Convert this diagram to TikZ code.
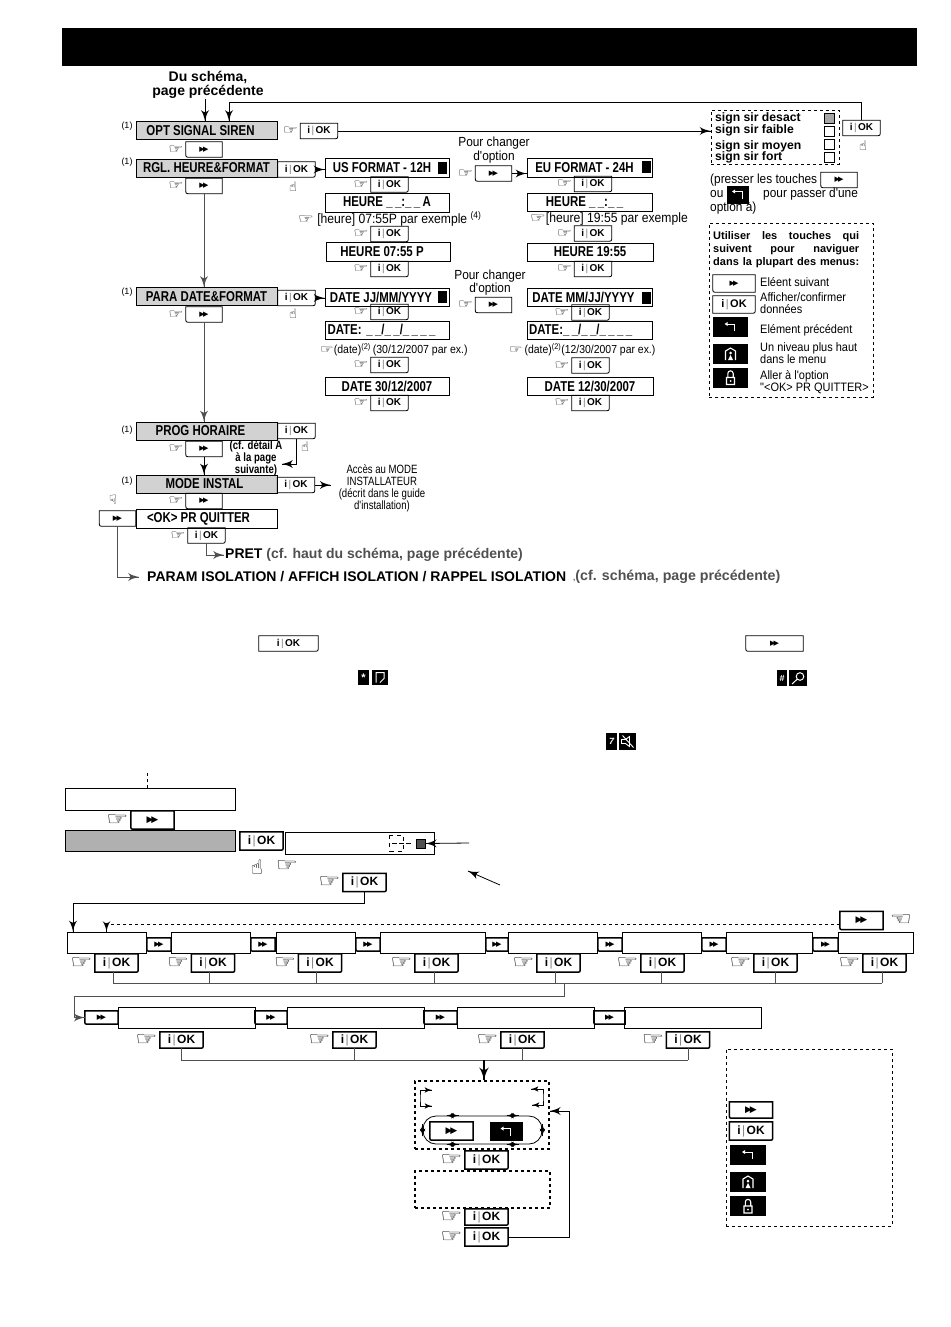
\documentclass[tikz,border=0pt]{standalone}
\usepackage{fontspec}
\setmainfont{Liberation Sans}
\newfontfamily\narrowfont[FakeStretch=0.80]{Liberation Sans}
\newfontfamily\notefont[FakeStretch=0.90]{Liberation Sans}
\newfontfamily\symbfont{DejaVu Sans}
\newfontfamily\handfont[FakeStretch=1.3]{DejaVu Sans}
\usetikzlibrary{arrows}
\usetikzlibrary{decorations.markings}
\usetikzlibrary{positioning}

\newcommand{\fs}[1]{\fontsize{#1}{#1}\selectfont}
\newcommand{\okmark}{i\kern1.5pt{\mdseries\textcolor{gray}{|}}\kern1.5pt OK}
\newcommand{\nextmark}{{\symbfont ▶\kern-.25em▶}}
\newcommand{\handmark}{{\handfont ☞}}

\definecolor{panel}{HTML}{D2D2D2}
\definecolor{panelb}{HTML}{B0B0B0}
\definecolor{wirec}{HTML}{505050}

\tikzset{flow/.style = {line width = 0.8,
                        decoration={markings,
                                    mark=at position 1 with {\arrow[scale=2.1]{latex'}}},
                        postaction={decorate}}}
\tikzset{both/.style = {line width = 0.6,
                        decoration={markings,
                                    mark=at position 0 with {\arrowreversed[scale=1.6]{latex'}},
                                    mark=at position 1 with {\arrow[scale=1.6]{latex'}}},
                        postaction={decorate}}}
\tikzset{wire/.style = {wirec, line width = 0.8}}
\tikzset{lcd/.style = {draw, line width = 1, inner sep = 0, font = \narrowfont\bfseries\fs{14.3}}}
\tikzset{lcdg/.style = {lcd, fill = panel}}
\tikzset{okkey/.style = {inner sep = 0, minimum width = 37, minimum height = 15,
    font = \bfseries\fs{10},
    append after command = {\pgfextra{\draw [line width = #1]
      (\tikzlastnode.south west) -- (\tikzlastnode.north west) -- (\tikzlastnode.north east)
      -- ([yshift=4]\tikzlastnode.south east)
      .. controls (\tikzlastnode.south east) .. ([xshift=-4]\tikzlastnode.south east) -- cycle;}}}}
\tikzset{okkey/.default = 0.8}
\tikzset{nextkey/.style = {inner sep = 0, minimum width = 36, minimum height = 15,
    font = \fs{7},
    append after command = {\pgfextra{\draw [line width = #1]
      (\tikzlastnode.north west) -- (\tikzlastnode.north east) -- (\tikzlastnode.south east)
      -- ([xshift=4]\tikzlastnode.south west)
      .. controls (\tikzlastnode.south west) .. ([yshift=4]\tikzlastnode.south west) -- cycle;}}}}
\tikzset{nextkey/.default = 0.8}
\tikzset{okbig/.style = {okkey = 1.5, minimum width = 43, minimum height = 18, font = \bfseries\fs{12}}}
\tikzset{nextbig/.style = {nextkey = 1.5, minimum width = 43, minimum height = 18, font = \fs{9}}}
\tikzset{nextslim/.style = {nextkey = 1.5, minimum height = 13, font = \fs{7}}}
\tikzset{hand/.style = {inner sep = 0, font = \handfont\fs{13}}}
\tikzset{handbig/.style = {inner sep = 0, font = \handfont\fs{19}}}
\tikzset{note/.style = {inner sep = 0, font = \notefont\fs{13.2}}}
\tikzset{tagone/.style = {inner sep = 0, font = \fs{9}}}
\tikzset{strong/.style = {inner sep = 0, font = \bfseries\fs{14}}}
\tikzset{dashbox/.style = {draw, dashed, line width = 0.9, inner sep = 0}}
\tikzset{dashheavy/.style = {draw, dashed, line width = 1.4, inner sep = 0}}
\tikzset{iconbox/.style = {fill = black, inner sep = 0, text = white, font = \bfseries\fs{9}}}
\tikzset{sq/.style = {draw, line width = 0.7, inner sep = 0, minimum width = 10, minimum height = 10}}

\newcommand{\okstep}[3]{%
  \node [okkey] (#1) at (#2, #3) {\okmark};
  \node [hand, left = 2 of #1] (#1h) {\handmark};}
\newcommand{\nextstep}[3]{%
  \node [nextkey] (#1) at (#2, #3) {\nextmark};
  \node [hand, left = 2 of #1] (#1h) {\handmark};}
\newcommand{\backglyph}[1]{%
  \fill [white, shift = {(#1.center)}] (-6, -3) -- (-3, -5) -- (-3, -1) -- cycle;
  \draw [white, line width = 0.9, shift = {(#1.center)}] (-4, -3) -- (4, -3) -- (4, 4);}
\newcommand{\homeglyph}[1]{%
  \draw [white, line width = 1.1, shift = {(#1.center)}] (-5, 6) -- (-5, -3) -- (0, -6) -- (5, -3) -- (5, 6);
  \fill [white, shift = {(#1.center)}] (0, -1) circle (1.5) (-2.5, 6) -- (0, 1) -- (2.5, 6) -- cycle;}
\newcommand{\lockglyph}[1]{%
  \draw [white, line width = 1.1, shift = {(#1.center)}] (-4, 0) rectangle (4, 7)
    (-2.7, 0) -- (-2.7, -4) arc (180:360:2.7) -- (2.7, 0);
  \fill [white, shift = {(#1.center)}] (0, 3.5) circle (1);}

\begin{document}
\begin{tikzpicture}[x=1pt, y=-1pt]
  \useasboundingbox (0, 0) rectangle (950, 1327);
  \node [fill = black, inner sep = 0, minimum width = 855, minimum height = 38] (header) at (489.5, 47) {};

  % top chart, left column
  \node [inner sep = 0, align = center, font = \bfseries\fs{14}] (from) at (208, 85) {Du schéma,\\page précédente};
  \node [lcdg, minimum width = 141, minimum height = 18] (opt) at (206.5, 130.5) {\hspace*{-12pt}OPT SIGNAL SIREN};
  \node [lcdg, minimum width = 141, minimum height = 18] (rgl) at (206.5, 168) {RGL. HEURE\&FORMAT};
  \node [lcdg, minimum width = 141, minimum height = 18] (para) at (206.5, 296.5) {PARA DATE\&FORMAT};
  \node [lcdg, minimum width = 141, minimum height = 18] (prog) at (206.5, 431) {\hspace*{-12pt}PROG HORAIRE};
  \node [lcdg, minimum width = 141, minimum height = 18] (inst) at (206.5, 484) {\hspace*{-4pt}MODE INSTAL};
  \node [lcd, minimum width = 141, minimum height = 19] (quit) at (206.5, 518.5) {\hspace*{-16pt}<OK> PR QUITTER};
  \node [tagone] (ta) at (127, 126) {(1)};
  \node [tagone] (tb) at (127, 162) {(1)};
  \node [tagone] (tc) at (127, 292) {(1)};
  \node [tagone] (td) at (127, 430) {(1)};
  \node [tagone] (te) at (127, 481) {(1)};

  \nextstep{na}{204}{149.5}
  \nextstep{nb}{204}{186}
  \nextstep{nc}{204}{314.5}
  \nextstep{nd}{204}{449}
  \nextstep{ne}{204}{501}
  \node [okkey] (oa) at (319, 131) {\okmark};
  \node [hand, left = 2 of oa] (oah) {\handmark};
  \node [okkey] (ob) at (296.5, 169.5) {\okmark};
  \node [okkey] (oc) at (296.5, 298) {\okmark};
  \node [okkey] (od) at (296.5, 431) {\okmark};
  \node [okkey] (oe) at (296, 485) {\okmark};
  \okstep{of}{206.5}{535.5}
  \node [nextkey] (nq) at (117.5, 518.5) {\nextmark};
  \node [inner sep = 0, font = \symbfont\fs{13}] (pa) at (293, 187) {☝};
  \node [inner sep = 0, font = \symbfont\fs{13}] (pb) at (293, 314) {☝};
  \node [inner sep = 0, font = \symbfont\fs{13}] (pc) at (305, 447) {☝};
  \node [inner sep = 0, font = \symbfont\fs{13}] (pd) at (113, 500) {☟};
  \node [inner sep = 0, align = center, font = \narrowfont\bfseries\fs{12}] (detail) at (256, 458) {(cf. détail A\\à la page\\suivante)};
  \node [inner sep = 0, align = center, font = \narrowfont\fs{12}] (acces) at (382, 488.5) {Accès au MODE\\INSTALLATEUR\\(décrit dans le guide\\d'installation)};
  \node [strong, anchor = west] (pret) at (225, 555) {PRET {\color{wirec}(cf. haut du schéma, page précédente)}};
  \node [strong, anchor = west] (param) at (147, 577) {PARAM ISOLATION / AFFICH ISOLATION / RAPPEL ISOLATION};
  \node [strong, anchor = west, text = wirec, font = \bfseries\fs{14.2}] (cfs) at (573, 577) {{\fs{8},}(cf. schéma, page précédente)};

  \draw [flow] ([xshift=-3]from.south) -- ([xshift=-1.5]opt.north);
  \draw [wire, flow] (nb.south) -- (nb.south |- para.north);
  \draw [wire, flow] (nc.south) -- (nc.south |- prog.north);
  \draw [flow] (nd.south) -- (nd.south |- inst.north);
  \draw [flow] (oe.east) -- ++(16, 0);
  \coordinate (backa) at (282, 464);
  \draw [flow] (od.south) |- (backa);
  \coordinate (preta) at (224, 555);
  \coordinate (parama) at (139, 577);
  \draw [wire, flow] (of.south) |- (preta);
  \draw [wire, flow] (nq.south) |- (parama);

  % format columns
  \node [lcd, minimum width = 124, minimum height = 19] (us) at (387, 167.5) {\hspace*{-10pt}US FORMAT - 12H};
  \node [lcd, minimum width = 124, minimum height = 19] (hus) at (387, 202.5) {HEURE \_\,\_:\_\,\_\,A};
  \node [lcd, minimum width = 124, minimum height = 19] (tus) at (388, 251.5) {\hspace*{-12pt}HEURE 07:55 P};
  \node [lcd, minimum width = 124, minimum height = 18] (dus) at (387, 297) {\hspace*{-12pt}DATE JJ/MM/YYYY};
  \node [lcd, minimum width = 124, minimum height = 18, text width = 119] (fus) at (387, 330) {DATE: \_\,\_/\_\,\_/\_\,\_\,\_\,\_};
  \node [lcd, minimum width = 124, minimum height = 18] (vus) at (387, 386) {DATE 30/12/2007};
  \node [lcd, minimum width = 125, minimum height = 19] (eu) at (589.5, 167.5) {\hspace*{-10pt}EU FORMAT - 24H};
  \node [lcd, minimum width = 125, minimum height = 18] (heu) at (589.5, 202) {\hspace*{-10pt}HEURE \_\,\_:\_\,\_};
  \node [lcd, minimum width = 126, minimum height = 18] (teu) at (590, 252) {HEURE 19:55};
  \node [lcd, minimum width = 125, minimum height = 18] (deu) at (589.5, 297) {\hspace*{-12pt}DATE MM/JJ/YYYY};
  \node [lcd, minimum width = 125, minimum height = 18, text width = 121] (feu) at (589.5, 330) {DATE:\_\,\_/\_\,\_/\_\,\_\,\_\,\_};
  \node [lcd, minimum width = 126, minimum height = 18] (veu) at (590, 386) {DATE 12/30/2007};
  \foreach \nm/\bx/\by in {sa/442/167.5, sb/442.5/297, sc/646.5/167, sd/646.5/297.5}
    \node [fill = black, inner sep = 0, minimum width = 9, minimum height = 12] (\nm) at (\bx, \by) {};

  \okstep{ua}{389.5}{184.5}
  \okstep{ub}{389.5}{234}
  \okstep{uc}{389.5}{269}
  \okstep{ud}{389.5}{312}
  \okstep{ue}{389.5}{365}
  \okstep{uf}{389.5}{403}
  \okstep{va}{593}{184}
  \okstep{vb}{593}{233.5}
  \okstep{vc}{593}{269}
  \okstep{vd}{590.5}{312.5}
  \okstep{ve}{590.5}{365.5}
  \okstep{vf}{590.5}{403}
  \node [note, anchor = west, font = \notefont\fs{13.5}] (hnote) at (298, 219) {\handmark\ [heure] 07:55P par exemple \textsuperscript{(4)}};
  \node [note, anchor = west, font = \notefont\fs{13.5}] (hnoteb) at (530, 219) {\handmark[heure] 19:55 par exemple};
  \node [note, anchor = west, font = \notefont\fs{11.7}] (dnote) at (320, 350) {\handmark(date)\textsuperscript{(2)}\,(30/12/2007 par ex.)};
  \node [note, anchor = west, font = \notefont\fs{11.6}] (dnoteb) at (509, 350) {\handmark\,(date)\textsuperscript{(2)}(12/30/2007 par ex.)};

  \node [note, align = center] (cha) at (494, 150) {Pour changer\\d'option};
  \node [note, align = center] (chb) at (490, 282.5) {Pour changer\\d'option};
  \nextstep{xa}{493.5}{173.5}
  \nextstep{xb}{493.5}{305}
  \draw [flow] (ob.east) -- (ob.east -| us.west);
  \draw [flow] (oc.east) -- (oc.east -| dus.west);
  \draw [flow] (xa.east) -- (xa.east -| eu.west);

  % options and help box
  \node [dashbox, minimum width = 128, minimum height = 54] (signs) at (775, 137) {};
  \node [font = \bfseries\fs{12.2}, inner sep = 0, anchor = west] (la) at (715, 118) {sign sir desact};
  \node [font = \bfseries\fs{12.2}, inner sep = 0, anchor = west] (lb) at (715, 130) {sign sir faible};
  \node [font = \bfseries\fs{12.2}, inner sep = 0, anchor = west] (lc) at (715, 146) {sign sir moyen};
  \node [font = \bfseries\fs{12.2}, inner sep = 0, anchor = west] (ld) at (715, 157) {sign sir fort};
  \node [sq, fill = gray!70] (ma) at (829, 118) {};
  \node [sq] (mb) at (829, 131) {};
  \node [sq] (mc) at (829, 144) {};
  \node [sq] (md) at (829, 157) {};
  \node [okkey] (sigok) at (861.5, 128) {\okmark};
  \node [inner sep = 0, font = \symbfont\fs{13}] (pe) at (863, 146) {☝};
  \coordinate (topturn) at (229, 102);
  \draw [flow] (sigok.north) |- (topturn) -- ([xshift=22.5]opt.north);
  \draw [flow] (oa.east) -- (oa.east -| signs.west);

  \node [note, anchor = west] (pres) at (710, 180) {(presser les touches};
  \node [nextkey] (presk) at (839, 180) {\nextmark};
  \node [note, anchor = west] (pou) at (710, 194) {ou};
  \node [iconbox, minimum width = 22, minimum height = 18] (prbk) at (738, 194.5) {};
  \backglyph{prbk}
  \node [note, anchor = west] (ppas) at (763, 194) {pour passer d'une};
  \node [note, anchor = west] (popt) at (710, 208) {option à)};

  \node [dashbox, minimum width = 164, minimum height = 174] (help) at (791, 310) {};
  \node [inner sep = 0, anchor = north west, align = left, font = \bfseries\fs{11}] (helpt) at (713, 231)
    {\makebox[146pt][s]{Utiliser les touches qui}\\[2pt]\makebox[146pt][s]{suivent pour naviguer}\\[2pt]\makebox[146pt][s]{dans la plupart des menus:}};
  \node [nextkey, minimum width = 42, minimum height = 17] (hka) at (734, 283.5) {\nextmark};
  \node [okkey, minimum width = 42, minimum height = 17, font = \bfseries\fs{11}] (hkb) at (734, 304.5) {\okmark};
  \node [iconbox, minimum width = 35, minimum height = 20] (hkc) at (730.5, 327) {};
  \node [iconbox, minimum width = 35, minimum height = 20] (hkd) at (730.5, 354) {};
  \node [iconbox, minimum width = 35, minimum height = 20] (hke) at (730.5, 377.5) {};
  \backglyph{hkc}
  \homeglyph{hkd}
  \lockglyph{hke}
  \node [note, anchor = west, font = \notefont\fs{12.2}] (tka) at (760, 282) {Eléent suivant};
  \node [note, anchor = west, align = left, font = \notefont\fs{12.2}] (tkb) at (760, 303.5) {Afficher/confirmer\\données};
  \node [note, anchor = west, font = \notefont\fs{12.2}] (tkc) at (760, 330) {Elément précédent};
  \node [note, anchor = west, align = left, font = \notefont\fs{12.2}] (tkd) at (760, 353.5) {Un niveau plus haut\\dans le menu};
  \node [note, anchor = west, align = left, font = \notefont\fs{12.2}] (tke) at (760, 382) {Aller à l'option\\"<OK> PR QUITTER>};

  % loose keys in the middle
  \node [okkey, minimum width = 59, minimum height = 15] (midok) at (288.5, 643.5) {\okmark};
  \node [nextkey, minimum width = 57, minimum height = 15] (midnx) at (774.5, 643.5) {\nextmark};
  \node [iconbox, minimum width = 11, minimum height = 15] (stara) at (363.5, 677.5) {\fs{11}*};
  \node [iconbox, minimum width = 16, minimum height = 15] (starb) at (380, 677.5) {};
  \draw [white, line width = 1, shift = {(starb.center)}] (-4, 5) -- (-4, -5) -- (4, -5) -- (4, 1) -- (0, 5);
  \node [iconbox, minimum width = 10, minimum height = 16] (hasha) at (782, 678) {\#};
  \node [iconbox, minimum width = 18, minimum height = 16] (hashb) at (798, 678) {};
  \draw [white, line width = 1, shift = {(hashb.center)}] (2, -1.5) circle (3.8) (-0.8, 1.2) -- (-6, 6);
  \node [iconbox, minimum width = 11, minimum height = 17] (sevena) at (611.5, 741.5) {\itshape 7};
  \node [iconbox, minimum width = 17, minimum height = 17] (sevenb) at (627.5, 741.5) {};
  \draw [white, line width = 0.9, shift = {(sevenb.center)}] (-6, -2) -- (-2, -2) -- (2, -5) -- (2, 5) -- (-2, 2) -- (-6, 2) -- cycle (-5, -6) -- (6, 6);

  % lower chart, entry
  \coordinate (dashtop) at (147, 773);
  \node [lcd, minimum width = 170, minimum height = 22] (entry) at (150, 799) {};
  \node [lcd, minimum width = 170, minimum height = 21, fill = panelb] (entryg) at (150, 840.5) {};
  \draw [dashed, line width = 0.7] (dashtop) -- (dashtop |- entry.north);
  \node [nextbig] (enx) at (152.5, 820) {\nextmark};
  \node [handbig, left = 2 of enx] (enxh) {\handmark};
  \node [okbig] (eok) at (261.5, 841) {\okmark};
  \node [lcd, minimum width = 149, minimum height = 22] (dsp) at (359.5, 843) {};
  \node [fill = wirec, draw, inner sep = 0, minimum width = 9, minimum height = 9] (dsq) at (421, 843.5) {};
  \draw [line width = 0.9, dash pattern = on 4 off 4] (389.5, 835) rectangle (403, 851);
  \draw [line width = 0.9, dash pattern = on 5 off 2] (392, 843) -- (411, 843);
  \coordinate (dspfrom) at (469, 843);
  \draw [flow] (dspfrom) -- (dsq.east);
  \node [inner sep = 0, font = \symbfont\fs{20}] (epa) at (257, 867) {☝};
  \node [handbig] (epb) at (287, 866) {\handmark};
  \node [okbig] (sok) at (364.5, 882.5) {\okmark};
  \node [handbig, left = 2 of sok] (sokh) {\handmark};
  \coordinate (tipa) at (468, 871);
  \coordinate (tipb) at (500, 885);
  \draw [flow] (tipb) -- (tipa);

  % first row of screens
  \foreach \n/\cx/\w in {1/106.5/79, 2/210.5/79, 3/315.5/79, 4/432.5/105, 5/552.5/89, 6/661.5/79, 7/769/86, 8/875.5/75}
    \node [lcd, minimum width = \w, minimum height = 21] (r\n) at (\cx, 942.5) {};
  \foreach \n/\cx/\w in {1/159/24, 2/263/24, 3/368/24, 4/497/22, 5/610/24, 6/714/24, 7/825.5/25}
    \node [nextslim, minimum width = \w] (rn\n) at (\cx, 944.5) {\nextmark};
  \foreach \n/\cx in {1/116.5, 2/213, 3/320, 4/436.5, 5/558.5, 6/662.5, 7/775.5, 8/884.5} {
    \node [okbig] (rk\n) at (\cx, 963) {\okmark};
    \node [handbig, left = 2 of rk\n] (rh\n) {\handmark};
  }
  \node [nextbig] (loopk) at (861.5, 920.5) {\nextmark};
  \node [inner sep = 0, font = \handfont\fs{19}] (looph) at (901, 920) {☜};
  \draw [flow] (sok.south) -- ++(0, 12) -| ([xshift=-33.5]r1.north);
  \draw [dashed, flow, line width = 0.7] ([yshift=-3.5]loopk.west) -| (r1.north);
  \coordinate (busa) at (113, 983);
  \coordinate (busb) at (882, 983);
  \draw [wire] (busa) -- (busb);
  \foreach \n/\d in {1/-3.5, 2/-4, 3/-4, 4/-2.5, 5/-3, 6/-1.5, 7/-0.5, 8/-2.5}
    \draw [wire] ([xshift=\d]rk\n.south) -- ([xshift=\d]rk\n.south |- busa);

  % second row of screens
  \foreach \n/\cx in {1/186.5, 2/355.5, 3/525.5, 4/693} {
    \node [lcd, minimum width = 137, minimum height = 21] (s\n) at (\cx, 1017.5) {};
  }
  \foreach \n/\cx/\w in {0/101.5/33, 1/271/32, 2/440.5/33, 3/609.5/31}
    \node [nextslim, minimum width = \w] (sn\n) at (\cx, 1017.5) {\nextmark};
  \foreach \n/\cx in {1/181.5, 2/354.5, 3/522.5, 4/688} {
    \node [okbig, minimum height = 16] (sk\n) at (\cx, 1040) {\okmark};
    \node [handbig, left = 2 of sk\n] (sh\n) {\handmark};
  }
  \coordinate (bend) at (564, 983);
  \coordinate (turn) at (74, 996);
  \draw [wire, flow] (bend) |- (turn) |- (sn0.west);
  \coordinate (busc) at (181, 1060);
  \coordinate (busd) at (688, 1060);
  \draw [wire] (busc) -- (busd);
  \foreach \n in {1, 2, 3, 4}
    \draw [wire] (sk\n.south) -- (sk\n.south |- busc);

  % selection boxes
  \node [dashheavy, minimum width = 134, minimum height = 68] (menu) at (482, 1115) {};
  \node [dashheavy, minimum width = 135, minimum height = 37] (menub) at (482.5, 1189.5) {};
  \draw [flow, line width = 1.1] ([xshift=2]menu.north |- busc) -- ([xshift=2]menu.north);
  \coordinate (la1) at (432, 1090);
  \coordinate (la2) at (420, 1098);
  \coordinate (la3) at (432, 1106);
  \coordinate (ra1) at (531, 1089);
  \coordinate (ra2) at (543, 1097);
  \coordinate (ra3) at (532, 1105);
  \draw [both] (la1) -| (la2) |- (la3);
  \draw [both] (ra1) -| (ra2) |- (ra3);
  \node [draw, line width = 0.8, rounded corners = 13, inner sep = 0, minimum width = 119, minimum height = 28] (lap) at (482.5, 1130) {};
  \foreach \off in {-30, 30} {
    \draw [both] ([xshift=\off-6]lap.north) -- ([xshift=\off+6]lap.north);
    \draw [both] ([xshift=\off-6]lap.south) -- ([xshift=\off+6]lap.south);
  }
  \draw [both] ([yshift=-6]lap.west) -- ([yshift=6]lap.west);
  \draw [both] ([yshift=-6]lap.east) -- ([yshift=6]lap.east);
  \node [nextbig] (lapn) at (451.5, 1131) {\nextmark};
  \node [iconbox, minimum width = 33, minimum height = 19] (lapb) at (506.5, 1131.5) {};
  \backglyph{lapb}
  \node [okbig] (ma1) at (486.5, 1160) {\okmark};
  \node [handbig, left = 2 of ma1] (ma1h) {\handmark};
  \node [okbig, minimum height = 16] (ma2) at (486.5, 1217) {\okmark};
  \node [handbig, left = 2 of ma2] (ma2h) {\handmark};
  \node [okbig] (ma3) at (486.5, 1237) {\okmark};
  \node [handbig, left = 2 of ma3] (ma3h) {\handmark};
  \coordinate (rise) at (569, 1111);
  \draw [flow] (ma3.east) -| (rise) -- (rise -| menu.east);

  % legend
  \node [dashbox, line width = 0.7, minimum width = 166, minimum height = 177] (legend) at (809, 1137.5) {};
  \node [nextbig, minimum height = 16] (lga) at (751, 1110) {\nextmark};
  \node [okbig] (lgb) at (751, 1131) {\okmark};
  \node [iconbox, minimum width = 36, minimum height = 20] (lgc) at (748, 1155) {};
  \node [iconbox, minimum width = 36, minimum height = 20] (lgd) at (748, 1182) {};
  \node [iconbox, minimum width = 36, minimum height = 20] (lge) at (748, 1206) {};
  \backglyph{lgc}
  \homeglyph{lgd}
  \lockglyph{lge}
\end{tikzpicture}
\end{document}
